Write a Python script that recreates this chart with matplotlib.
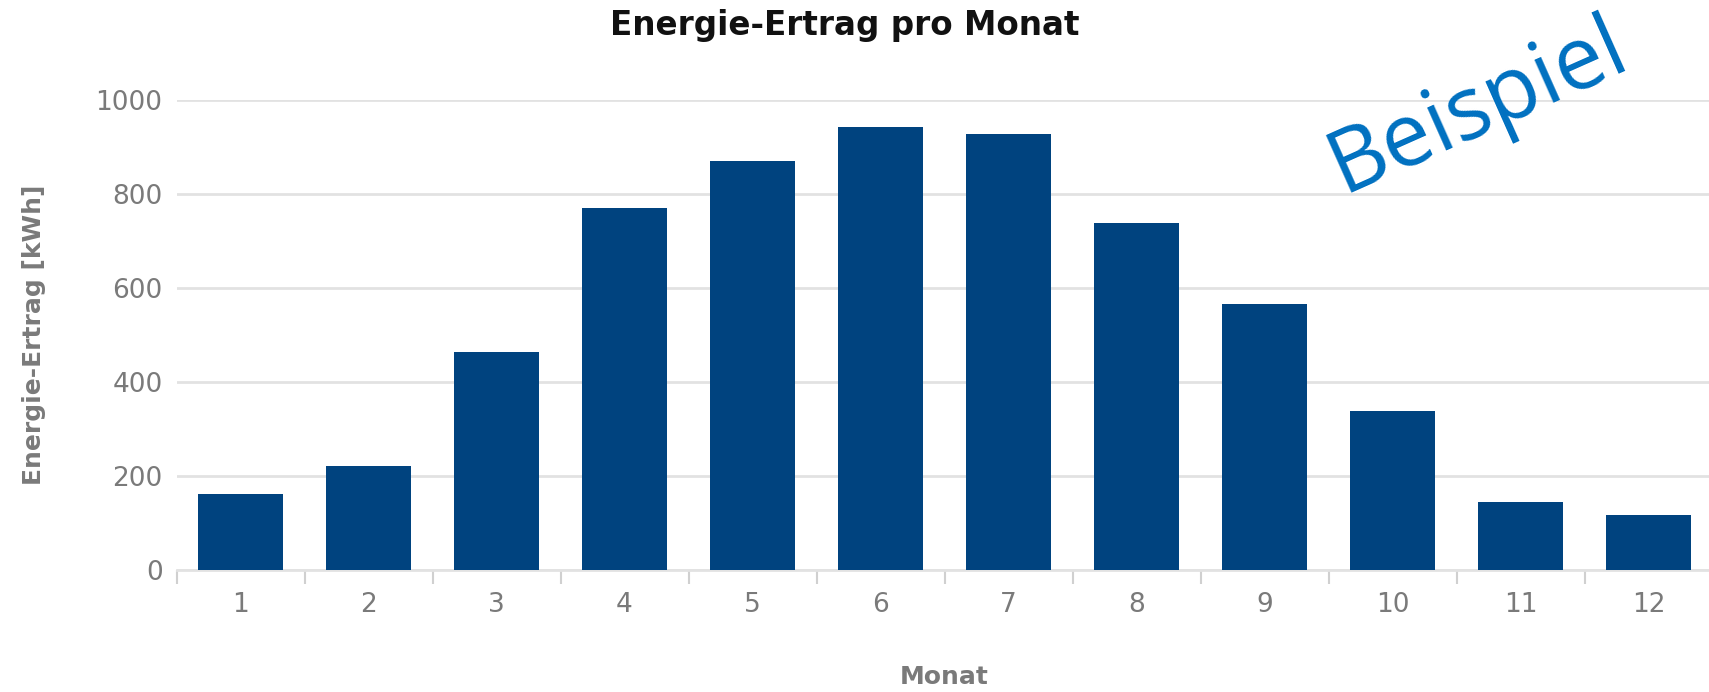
import numpy as np
import matplotlib
matplotlib.use("Agg")
import matplotlib.pyplot as plt

# Monatswerte (kWh)
monate = ["1", "2", "3", "4", "5", "6", "7", "8", "9", "10", "11", "12"]
ertrag = [162, 221, 464, 770, 870, 943, 928, 738, 566, 338, 145, 117]
y_ticks = [0, 200, 400, 600, 800, 1000]

bar_color = "#00437f"
grid_color = "#e2e2e2"
text_gray = "#7a7a7a"

fig = plt.figure(figsize=(17.09, 6.92), dpi=100)
ax = fig.add_axes([176.5 / 1709, 122 / 692, 1536 / 1709, 470 / 692])

x = np.arange(1, len(monate) + 1)
ax.bar(x, ertrag, width=0.67, color=bar_color, zorder=3)

ax.set_xlim(0.5, len(monate) + 0.5)
ax.set_ylim(0, 1000)

# Gitterlinien
ax.set_yticks(y_ticks)
ax.yaxis.grid(True, color=grid_color, linewidth=2, zorder=0)
ax.tick_params(axis="y", length=0, pad=10, labelsize=19, labelcolor=text_gray)

# x-Achse: Beschriftung in der Mitte, Striche an den Grenzen
ax.set_xticks(x)
ax.set_xticklabels(monate)
ax.set_xticks(np.arange(0.5, len(monate) + 1, 1.0), minor=True)
ax.tick_params(axis="x", which="major", length=0, pad=16, labelsize=19, labelcolor=text_gray)
ax.tick_params(axis="x", which="minor", length=10, width=1.5, color="#d0d0d0")

for side in ["top", "right", "left"]:
    ax.spines[side].set_visible(False)
ax.spines["bottom"].set_color(grid_color)
ax.spines["bottom"].set_linewidth(2)

ax.set_ylabel("Energie-Ertrag [kWh]", fontsize=18, fontweight="bold", color=text_gray, labelpad=36)
ax.set_xlabel("Monat", fontsize=18, fontweight="bold", color=text_gray, labelpad=34)

fig.text(0.4945, 0.963, "Energie-Ertrag pro Monat", ha="center", va="center",
         fontsize=23.5, fontweight="bold", color="#111111")

# Wasserzeichen
fig.text(1478 / 1709, 1 - 107 / 692, "Beispiel", ha="center", va="center",
         rotation=24, fontsize=63, color="#0070c0", family="Open Sans",
         rotation_mode="anchor")

fig.savefig("out.png", dpi=100)
